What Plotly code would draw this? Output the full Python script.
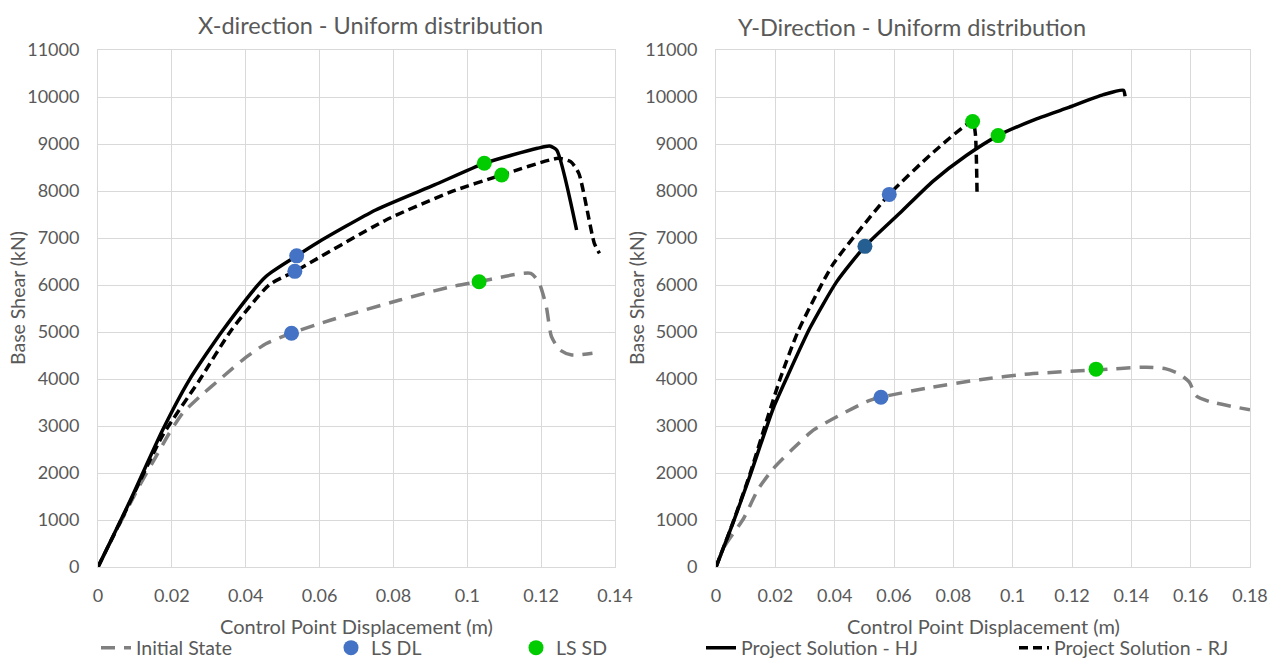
import plotly.graph_objects as go

# ---------------- X-direction (left) ----------------
init_x_X = [0, 0.0046, 0.0111, 0.0157, 0.0193, 0.0229, 0.0275, 0.0338, 0.0402, 0.0456, 0.0524, 0.0631,
            0.0817, 0.0957, 0.1032, 0.1172, 0.1195, 0.1214, 0.1228, 0.1251, 0.1283, 0.1339]
init_y_X = [0, 720, 1710, 2350, 2845, 3270, 3620, 4047, 4470, 4756, 4975, 5255,
            5681, 5964, 6070, 6248, 6036, 5540, 4900, 4617, 4511, 4547]
hj_x_X = [0, 0.0084, 0.0175, 0.0247, 0.0338, 0.0454, 0.0538, 0.0594, 0.0752, 0.0911, 0.1046, 0.119,
          0.1223, 0.1242, 0.1296]
hj_y_X = [0, 1360, 2915, 3977, 5038, 6177, 6620, 6900, 7596, 8128, 8589, 8908,
          8957, 8872, 7170]
rj_x_X = [0, 0.0084, 0.0175, 0.0275, 0.0361, 0.0463, 0.0533, 0.078, 0.0957, 0.1093, 0.1246, 0.128,
          0.1302, 0.1344, 0.1358]
rj_y_X = [0, 1340, 2800, 3977, 5038, 6000, 6290, 7383, 7985, 8340, 8695, 8624,
          8376, 6887, 6674]
dl_x_X = [0.0538, 0.0533, 0.0524]
dl_y_X = [6620, 6290, 4975]
sd_x_X = [0.1046, 0.1093, 0.1032]
sd_y_X = [8589, 8340, 6070]

# ---------------- Y-direction (right) ----------------
init_x_Y = [0, 0.003, 0.0092, 0.0143, 0.0193, 0.026, 0.0328, 0.0418, 0.0508, 0.0556, 0.071, 0.0889,
            0.1056, 0.1283, 0.145, 0.1517, 0.1562, 0.1596, 0.1618, 0.1663, 0.18]
init_y_Y = [0, 450, 1021, 1664, 2092, 2520, 2912, 3233, 3520, 3612, 3805, 3986,
            4108, 4194, 4251, 4215, 4108, 3929, 3643, 3522, 3343]
hj_x_Y = [0, 0.0058, 0.0115, 0.0193, 0.0238, 0.0317, 0.0407, 0.0502, 0.062, 0.073, 0.0845, 0.0951,
          0.107, 0.1182, 0.1306, 0.1373, 0.1379]
hj_y_Y = [0, 950, 1950, 3377, 4020, 5090, 6072, 6822, 7530, 8200, 8760, 9179,
          9507, 9761, 10050, 10145, 10015]
rj_x_Y = [0, 0.0058, 0.0115, 0.0165, 0.0216, 0.0277, 0.0393, 0.0485, 0.0584, 0.0732, 0.0865,
          0.0874, 0.088]
rj_y_Y = [0, 960, 1990, 3000, 4000, 5020, 6428, 7178, 7928, 8821, 9479,
          9230, 7928]
dl_x_Y = [0.0502, 0.0584, 0.0556]
dl_y_Y = [6822, 7928, 3612]
dl_colors_Y = ["#255E91", "#4472C4", "#4472C4"]
sd_x_Y = [0.0865, 0.0951, 0.1281]
sd_y_Y = [9479, 9179, 4210]

x_ticks_X = [0, 0.02, 0.04, 0.06, 0.08, 0.1, 0.12, 0.14]
x_ticks_Y = [0, 0.02, 0.04, 0.06, 0.08, 0.1, 0.12, 0.14, 0.16, 0.18]
y_ticks = list(range(0, 11001, 1000))

titles = ["X-direction - Uniform distribution", "Y-Direction - Uniform distribution"]
x_title = "Control Point Displacement (m)"
y_title = "Base Shear (kN)"

FONT = "Lato"
TXT = "#595959"
GRID = "#D9D9D9"
GRAY = "#808080"
BLUE = "#4472C4"
GREEN = "#00CC00"

fig = go.Figure()

def add_panel(xa, ya, ix, iy, hx, hy, rx, ry, dx, dy, dcol, sx, sy, show):
    fig.add_trace(go.Scatter(x=ix, y=iy, mode="lines", name="Initial State", xaxis=xa, yaxis=ya,
                             line=dict(color=GRAY, width=3.5, dash="14px,9px", shape="spline", smoothing=0.6),
                             legend="legend", showlegend=show, legendgroup="init"))
    fig.add_trace(go.Scatter(x=hx, y=hy, mode="lines", name="Project Solution - HJ", xaxis=xa, yaxis=ya,
                             line=dict(color="black", width=3.5, shape="spline", smoothing=0.6),
                             legend="legend4", showlegend=show, legendgroup="hj"))
    fig.add_trace(go.Scatter(x=rx, y=ry, mode="lines", name="Project Solution - RJ", xaxis=xa, yaxis=ya,
                             line=dict(color="black", width=3.5, dash="9px,5px", shape="spline", smoothing=0.6),
                             legend="legend5", showlegend=show, legendgroup="rj"))
    fig.add_trace(go.Scatter(x=dx, y=dy, mode="markers", name="LS DL", xaxis=xa, yaxis=ya,
                             marker=dict(color=dcol, size=15),
                             legend="legend2", showlegend=show, legendgroup="dl"))
    fig.add_trace(go.Scatter(x=sx, y=sy, mode="markers", name="LS SD", xaxis=xa, yaxis=ya,
                             marker=dict(color=GREEN, size=15),
                             legend="legend3", showlegend=show, legendgroup="sd"))

add_panel("x", "y", init_x_X, init_y_X, hj_x_X, hj_y_X, rj_x_X, rj_y_X,
          dl_x_X, dl_y_X, BLUE, sd_x_X, sd_y_X, True)
add_panel("x2", "y2", init_x_Y, init_y_Y, hj_x_Y, hj_y_Y, rj_x_Y, rj_y_Y,
          dl_x_Y, dl_y_Y, dl_colors_Y, sd_x_Y, sd_y_Y, False)

ydom = [93 / 660, 610 / 660]
axis_common = dict(showgrid=True, gridcolor=GRID, gridwidth=1, zeroline=False,
                   showline=True, linecolor=GRID, linewidth=1, mirror=True, automargin=False,
                   tickfont=dict(family=FONT, size=18, color=TXT), ticks="")

legend_common = dict(orientation="h", yanchor="middle", y=(660 - 648) / 660, xanchor="left",
                     font=dict(family=FONT, size=19.5, color=TXT), bgcolor="rgba(0,0,0,0)",
                     itemclick=False, itemdoubleclick=False)

fig.update_layout(
    width=1280, height=660,
    margin=dict(l=0, r=0, t=0, b=0, autoexpand=False),
    paper_bgcolor="white", plot_bgcolor="white",
    xaxis=dict(domain=[98 / 1280, 615 / 1280], range=[0, 0.14], tickvals=x_ticks_X,
               ticktext=[f"{v:g}" for v in x_ticks_X], anchor="y", ticklabelstandoff=12, **axis_common),
    yaxis=dict(domain=ydom, range=[0, 11000], tickvals=y_ticks, ticktext=[str(v) for v in y_ticks],
               anchor="x", ticklabelstandoff=14, **axis_common),
    xaxis2=dict(domain=[716 / 1280, 1250 / 1280], range=[0, 0.18], tickvals=x_ticks_Y,
                ticktext=[f"{v:g}" for v in x_ticks_Y], anchor="y2", ticklabelstandoff=12, **axis_common),
    yaxis2=dict(domain=ydom, range=[0, 11000], tickvals=y_ticks, ticktext=[str(v) for v in y_ticks],
                anchor="x2", ticklabelstandoff=14, **axis_common),
    legend=dict(x=96 / 1280, **legend_common),
    legend2=dict(x=331 / 1280, **legend_common),
    legend3=dict(x=516 / 1280, **legend_common),
    legend4=dict(x=701 / 1280, **legend_common),
    legend5=dict(x=1014 / 1280, **legend_common),
    showlegend=True,
)

ann = []
ann.append(dict(text=titles[0], x=370 / 1280, y=1 - 25 / 660, xref="paper", yref="paper",
                showarrow=False, font=dict(family=FONT, size=23.5, color=TXT), xanchor="center", yanchor="middle"))
ann.append(dict(text=titles[1], x=912 / 1280, y=1 - 27 / 660, xref="paper", yref="paper",
                showarrow=False, font=dict(family=FONT, size=23.5, color=TXT), xanchor="center", yanchor="middle"))
for cx in [356 / 1280, 983 / 1280]:
    ann.append(dict(text=x_title, x=cx, y=1 - 626 / 660, xref="paper", yref="paper",
                    showarrow=False, font=dict(family=FONT, size=20, color=TXT), xanchor="center", yanchor="middle"))
for cx in [17 / 1280, 636 / 1280]:
    ann.append(dict(text=y_title, x=cx, y=1 - 298 / 660, xref="paper", yref="paper", textangle=-90,
                    showarrow=False, font=dict(family=FONT, size=19.5, color=TXT), xanchor="center", yanchor="middle"))
fig.update_layout(annotations=ann)

fig.write_html("out.html",
               config={"displayModeBar": False},
               post_script="document.body.style.margin='0';document.body.style.padding='0';"
                           "document.body.style.overflow='hidden';")
